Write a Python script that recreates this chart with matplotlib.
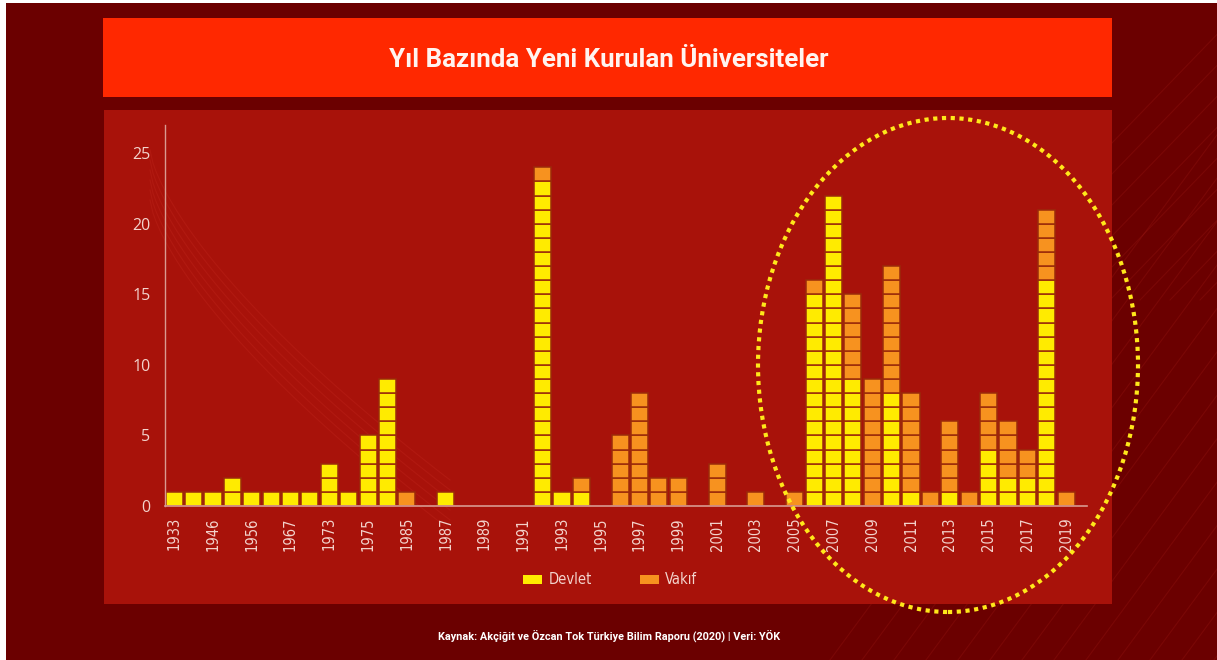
import matplotlib
matplotlib.use("Agg")
import matplotlib.pyplot as plt
from matplotlib.patches import Rectangle, Ellipse, Patch
import numpy as np

# ---------------- data ----------------
years = ["1933", "1944", "1946", "1955", "1956", "1957", "1967", "1971", "1973", "1974",
         "1975", "1982", "1985", "1986", "1987", "1988", "1989", "1990", "1991", "1992",
         "1993", "1994", "1995", "1996", "1997", "1998", "1999", "2000", "2001", "2002",
         "2003", "2004", "2005", "2006", "2007", "2008", "2009", "2010", "2011", "2012",
         "2013", "2014", "2015", "2016", "2017", "2018", "2019"]
devlet = [1, 1, 1, 2, 1, 1, 1, 1, 3, 1,
          5, 9, 0, 0, 1, 0, 0, 0, 0, 23,
          1, 1, 0, 0, 0, 0, 0, 0, 0, 0,
          0, 0, 0, 15, 22, 9, 0, 8, 1, 0,
          1, 0, 4, 2, 2, 16, 0]
vakif = [0, 0, 0, 0, 0, 0, 0, 0, 0, 0,
         0, 0, 1, 0, 0, 0, 0, 0, 0, 1,
         0, 1, 0, 5, 8, 2, 2, 0, 3, 0,
         1, 0, 1, 1, 0, 6, 9, 9, 7, 1,
         5, 1, 4, 4, 2, 5, 1]
series_labels = ["Devlet", "Vakıf"]
yticks = [0, 5, 10, 15, 20, 25]
title = "Yıl Bazında Yeni Kurulan Üniversiteler"
source = "Kaynak: Akçiğit ve Özcan Tok Türkiye Bilim Raporu (2020) | Veri: YÖK"

# ---------------- style ----------------
BG = "#6b0000"
PANEL = "#a8120a"
BANNER = "#ff2800"
YELLOW = "#ffeb00"
ORANGE = "#f7921f"
EDGE = "#9b2a0a"
TXT = "#f3d3cc"
COND = ["DejaVu Sans", "Roboto"]

W, H = 1217, 660
fig = plt.figure(figsize=(W / 100, H / 100), dpi=100, facecolor=BG)

def fx(px):
    return px / W

def fy(py):
    return 1 - py / H

# white edges (as in reference)
fig.patches.append(Rectangle((0, 0), fx(6), 1, transform=fig.transFigure,
                             facecolor="white", edgecolor="none", zorder=0))
fig.patches.append(Rectangle((0, fy(3)), 1, 3 / H, transform=fig.transFigure,
                             facecolor="white", edgecolor="none", zorder=0))

# decorative faint diagonal lines in background
deco = fig.add_axes([0, 0, 1, 1], zorder=-1)
deco.set_xlim(0, W)
deco.set_ylim(H, 0)
deco.axis("off")
for k in range(14):
    x0 = 830 + k * 32
    deco.plot([x0, x0 + 420], [H, 90], color="#ff4a3a", alpha=0.10, lw=0.8)
for k in range(10):
    x0 = 960 + k * 30
    deco.plot([x0, x0 + 300], [300, -10], color="#ff4a3a", alpha=0.10, lw=0.8)

# banner and panel
fig.patches.append(Rectangle((fx(103), fy(97)), fx(1112) - fx(103), 79 / H,
                             transform=fig.transFigure, facecolor=BANNER,
                             edgecolor="none", zorder=0.5))
fig.patches.append(Rectangle((fx(104), fy(604)), fx(1112) - fx(104), 494 / H,
                             transform=fig.transFigure, facecolor=PANEL,
                             edgecolor="none", zorder=0.5))

# faint curved lines on the panel (left side)
tt = np.linspace(0, 1, 100)
for k in range(6):
    xs = 150 + 300 * tt
    ys = 150 + k * 10 + 330 * tt ** 0.7
    fig.lines.append(plt.Line2D(xs / W, 1 - ys / H, transform=fig.transFigure,
                                color="#ff5a4a", alpha=0.10, lw=0.8, zorder=0.6))

fig.text(fx(609), fy(60), title, ha="center", va="center", color="#fff4f0",
         fontsize=18.6, fontweight="bold", family="Roboto")

# ---------------- chart ----------------
ax = fig.add_axes([fx(164.5), fy(506), fx(1086.7) - fx(164.5), 381 / H], zorder=2)
ax.set_facecolor("none")
x = np.arange(len(years))
bw = 0.88
for i in x:
    for k in range(devlet[i]):
        ax.bar(i, 1, bottom=k, width=bw, color=YELLOW, edgecolor=EDGE, linewidth=1.1)
    for k in range(vakif[i]):
        ax.bar(i, 1, bottom=devlet[i] + k, width=bw, color=ORANGE,
               edgecolor=EDGE, linewidth=1.1)

ax.set_xlim(-0.5, 47.06)
ax.set_ylim(0, 27)
ax.set_yticks(yticks)
ax.set_yticklabels([str(v) for v in yticks], color=TXT, fontsize=11.5, family="Open Sans")
ax.set_xticks(x[::2])
ax.set_xticklabels(years[::2], rotation=90, color=TXT, fontsize=10.5, family=COND,
                   fontstretch="condensed")
ax.tick_params(axis="both", length=0)
ax.tick_params(axis="y", pad=10)
ax.tick_params(axis="x", pad=8)
for s in ["top", "right"]:
    ax.spines[s].set_visible(False)
ax.spines["left"].set_color("#d99a90")
ax.spines["bottom"].set_color("#d99a90")
ax.spines["left"].set_linewidth(1.0)
ax.spines["bottom"].set_linewidth(1.2)

handles = [Patch(facecolor=YELLOW, edgecolor="none"), Patch(facecolor=ORANGE, edgecolor="none")]
leg = fig.legend(handles, series_labels, loc="center", bbox_to_anchor=(fx(610), fy(580)),
                 ncol=2, frameon=False, handlelength=1.3, handleheight=0.65,
                 columnspacing=3.3, handletextpad=0.45,
                 prop={"family": COND, "size": 10.5, "stretch": "condensed"})
leg.set_zorder(3)
for t in leg.get_texts():
    t.set_color(TXT)

fig.text(fx(609), fy(636), source, ha="center", va="center", color="white",
         fontsize=7.8, fontweight="bold", family="Roboto")

# dotted ellipse highlight
ell = Ellipse((fx(948), fy(365)), fx(380), 494 / H, transform=fig.transFigure,
              fill=False, edgecolor="#ffe81a", linewidth=3.0,
              linestyle=(0, (1, 1.1)), zorder=10)
fig.patches.append(ell)

fig.savefig("out.png", dpi=100, facecolor=BG)
